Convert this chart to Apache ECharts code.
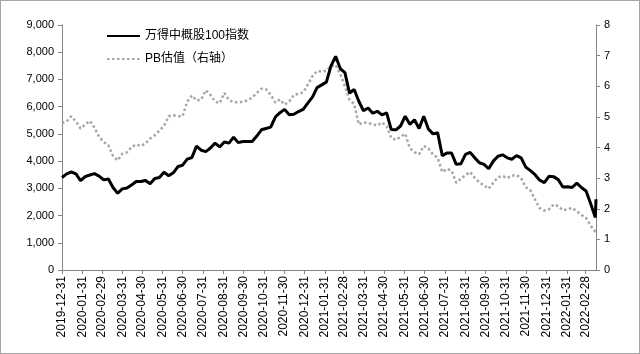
<!DOCTYPE html>
<html>
<head>
<meta charset="utf-8">
<script src="https://cdn.jsdelivr.net/npm/echarts@6/dist/echarts.min.js"></script>
<style>
  html, body { margin: 0; padding: 0; background: #fff; }
  #chart {
    width: 638px;
    height: 352px;
    border: 1px solid #a6a6a6;
  }
</style>
</head>
<body>
<div id="chart"></div>
<script>
// 周度取样日期
const sampleDates = [
  '2019-12-31', '2020-01-07', '2020-01-14', '2020-01-21', '2020-01-28', '2020-02-04', '2020-02-11', '2020-02-18',
  '2020-02-25', '2020-03-03', '2020-03-10', '2020-03-17', '2020-03-24', '2020-03-31', '2020-04-07', '2020-04-14',
  '2020-04-21', '2020-04-28', '2020-05-05', '2020-05-12', '2020-05-19', '2020-05-26', '2020-06-02', '2020-06-09',
  '2020-06-16', '2020-06-23', '2020-06-30', '2020-07-07', '2020-07-14', '2020-07-21', '2020-07-28', '2020-08-04',
  '2020-08-11', '2020-08-18', '2020-08-25', '2020-09-01', '2020-09-08', '2020-09-15', '2020-09-22', '2020-09-29',
  '2020-10-06', '2020-10-13', '2020-10-20', '2020-10-27', '2020-11-03', '2020-11-10', '2020-11-17', '2020-11-24',
  '2020-12-01', '2020-12-08', '2020-12-15', '2020-12-22', '2020-12-29', '2021-01-05', '2021-01-12', '2021-01-19',
  '2021-01-26', '2021-02-02', '2021-02-09', '2021-02-16', '2021-02-23', '2021-03-02', '2021-03-09', '2021-03-16',
  '2021-03-23', '2021-03-30', '2021-04-06', '2021-04-13', '2021-04-20', '2021-04-27', '2021-05-04', '2021-05-11',
  '2021-05-18', '2021-05-25', '2021-06-01', '2021-06-08', '2021-06-15', '2021-06-22', '2021-06-29', '2021-07-06',
  '2021-07-13', '2021-07-20', '2021-07-27', '2021-08-03', '2021-08-10', '2021-08-17', '2021-08-24', '2021-08-31',
  '2021-09-07', '2021-09-14', '2021-09-21', '2021-09-28', '2021-10-05', '2021-10-12', '2021-10-19', '2021-10-26',
  '2021-11-02', '2021-11-09', '2021-11-16', '2021-11-23', '2021-11-30', '2021-12-07', '2021-12-14', '2021-12-21',
  '2021-12-28', '2022-01-04', '2022-01-11', '2022-01-18', '2022-01-25', '2022-02-01', '2022-02-08', '2022-02-15',
  '2022-02-22', '2022-03-01', '2022-03-08', '2022-03-15', '2022-03-16'
]

// 万得中概股100指数（左轴）
const indexValues = [
  3400, 3530, 3600, 3530, 3280, 3430, 3490, 3540,
  3450, 3310, 3340, 3030, 2820, 2980, 3010, 3120,
  3250, 3250, 3290, 3170, 3360, 3400, 3590, 3460,
  3570, 3800, 3850, 4070, 4130, 4550, 4400, 4350,
  4480, 4660, 4520, 4700, 4660, 4880, 4680, 4720,
  4720, 4720, 4920, 5150, 5200, 5250, 5620, 5780,
  5900, 5700, 5720, 5820, 5900, 6130, 6350, 6700,
  6800, 6900, 7500, 7850, 7400, 7250, 6500, 6630,
  6200, 5850, 5950, 5760, 5830, 5700, 5770, 5160,
  5150, 5290, 5650, 5350, 5520, 5200, 5650, 5180,
  5000, 5040, 4200, 4300, 4300, 3880, 3900, 4250,
  4320, 4120, 3940, 3880, 3720, 4000, 4180, 4230,
  4120, 4070, 4200, 4120, 3780, 3650, 3500, 3300,
  3210, 3440, 3430, 3320, 3050, 3060, 3030, 3190,
  3030, 2900, 2430, 1930, 2600
]

// PB估值（右轴）
const pbValues = [
  4.80, 4.85, 5.02, 4.85, 4.62, 4.75, 4.87, 4.65,
  4.35, 4.18, 4.07, 3.72, 3.58, 3.80, 3.84, 4.01,
  4.10, 4.05, 4.13, 4.29, 4.40, 4.55, 4.70, 5.02,
  5.05, 5.02, 5.02, 5.50, 5.70, 5.54, 5.56, 5.87,
  5.72, 5.50, 5.45, 5.78, 5.55, 5.48, 5.48, 5.49,
  5.54, 5.63, 5.78, 5.92, 5.90, 5.72, 5.47, 5.57,
  5.40, 5.50, 5.72, 5.75, 5.80, 6.05, 6.33, 6.50,
  6.48, 6.50, 6.65, 6.70, 6.40, 6.00, 5.56, 5.42,
  4.75, 4.82, 4.80, 4.76, 4.72, 4.82, 4.70, 4.31,
  4.25, 4.35, 4.45, 3.98, 3.85, 3.78, 4.05, 3.97,
  3.77, 3.67, 3.20, 3.30, 3.24, 2.85, 2.98, 3.10,
  3.20, 3.01, 2.86, 2.76, 2.65, 2.85, 3.03, 3.07,
  3.00, 3.08, 3.10, 3.00, 2.70, 2.60, 2.30, 2.02,
  1.94, 1.98, 2.14, 2.09, 1.95, 1.98, 2.03, 1.92,
  1.80, 1.70, 1.45, 1.25, 1.30
]

const seriesNames = ['万得中概股100指数', 'PB估值（右轴）']

const font = 'Liberation Sans, Arial, Noto Sans CJK SC, sans-serif'

// 日历日期（每天一个类目）
function pad (n) {
  return n < 10 ? '0' + n : '' + n
}
function fmt (d) {
  return d.getUTCFullYear() + '-' + pad(d.getUTCMonth() + 1) + '-' + pad(d.getUTCDate())
}
function dayList (start, end) {
  let list = []
  let d = new Date(start + 'T00:00:00Z')
  const last = new Date(end + 'T00:00:00Z')
  while (d <= last) {
    list.push(fmt(d))
    d = new Date(d.getTime() + 86400000)
  }
  return list
}
function isMonthEnd (s) {
  const d = new Date(s + 'T00:00:00Z')
  const next = new Date(d.getTime() + 86400000)
  return next.getUTCMonth() !== d.getUTCMonth()
}

const days = dayList(sampleDates[0], sampleDates[sampleDates.length - 1])

function align (values) {
  let map = {}
  sampleDates.forEach((s, i) => { map[s] = values[i] })
  return days.map(s => (s in map ? map[s] : null))
}

let myChart = echarts.init(document.getElementById('chart'))
myChart.setOption({
  animation: false,
  textStyle: { fontFamily: font },
  grid: {
    left: 61,
    right: 43,
    top: 24,
    bottom: 83
  },
  legend: {
    orient: 'vertical',
    left: 100,
    top: 24,
    itemWidth: 33,
    itemHeight: 10,
    itemGap: 11,
    data: seriesNames,
    itemStyle: { opacity: 0 },
    textStyle: { fontSize: 12, color: '#000', fontFamily: font }
  },
  xAxis: {
    type: 'category',
    boundaryGap: false,
    data: days,
    axisLine: { lineStyle: { color: '#868686', width: 1 } },
    axisTick: {
      length: 4,
      interval: (index, value) => isMonthEnd(value),
      lineStyle: { color: '#868686' }
    },
    axisLabel: {
      interval: (index, value) => isMonthEnd(value),
      rotate: 90,
      margin: 6,
      fontSize: 12,
      color: '#000',
      fontFamily: font
    },
    splitLine: { show: false }
  },
  yAxis: [
    {
      type: 'value',
      min: 0,
      max: 9000,
      interval: 1000,
      axisLine: { show: true, lineStyle: { color: '#868686' } },
      axisTick: { show: true, length: 4, lineStyle: { color: '#868686' } },
      axisLabel: {
        fontSize: 11,
        color: '#000',
        margin: 8,
        fontFamily: font,
        formatter: v => v.toLocaleString('en-US')
      },
      splitLine: { show: false }
    },
    {
      type: 'value',
      min: 0,
      max: 8,
      interval: 1,
      position: 'right',
      axisLine: { show: true, lineStyle: { color: '#868686' } },
      axisTick: { show: true, length: 4, lineStyle: { color: '#868686' } },
      axisLabel: { fontSize: 11, color: '#000', margin: 8, fontFamily: font },
      splitLine: { show: false }
    }
  ],
  series: [
    {
      name: seriesNames[0],
      type: 'line',
      yAxisIndex: 0,
      data: align(indexValues),
      connectNulls: true,
      symbol: 'none',
      lineStyle: { color: '#000', width: 3 },
      itemStyle: { color: '#000' },
      z: 3
    },
    {
      name: seriesNames[1],
      type: 'line',
      yAxisIndex: 1,
      data: align(pbValues),
      connectNulls: true,
      symbol: 'none',
      lineStyle: { color: '#a6a6a6', width: 2.5, type: [2.5, 2.5] },
      itemStyle: { color: '#a6a6a6' },
      z: 2
    }
  ]
})
</script>
</body>
</html>
